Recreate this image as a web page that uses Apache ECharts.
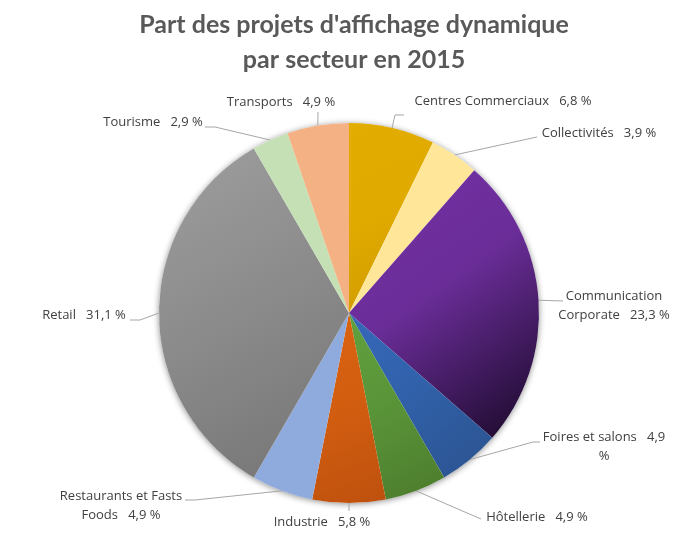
<!DOCTYPE html>
<html><head><meta charset="utf-8">
<script src="https://cdn.jsdelivr.net/npm/echarts@6/dist/echarts.min.js"></script>
<style>html,body{margin:0;padding:0;background:#fff}#c{width:699px;height:541px}</style>
</head><body><div id="c"></div>
<script>
const categories = ['Centres Commerciaux','Collectivités','Communication Corporate','Foires et salons','Hôtellerie','Industrie','Restaurants et Fasts Foods','Retail','Tourisme','Transports'];
const shares = [6.8,3.9,23.3,4.9,4.9,5.8,4.9,31.1,2.9,4.9];
const titleText = "Part des projets d'affichage dynamique\npar secteur en 2015";

// styling / layout
const colors = [['#E3AC00','#E1AA00','#CE9B00'],['#FFE699','#FFE699','#FFE699'],['#7532A6','#6A2D98','#180826'],['#3668BA','#3161AA','#2B528E'],['#60A03E','#5A9539','#4C7B2C'],['#DB6311','#D35E10','#BE510E'],['#8FAADC','#8FAADC','#8FAADC'],['#9E9E9E','#8C8C8C','#747474'],['#C5E0B4','#C5E0B4','#C5E0B4'],['#F4B183','#F4B183','#F4B183']];
const wrapAfter = {2:'Communication',3:'4,9',6:'Fasts'};
const labelPos = [[503,101],[599,133],[614,306],[604,447],[537,517],[322,522],[121,506],[84,315],[153,122],[281,102]];
const lineEnds = [[[395,115],[404,115]],[[537,137]],[[563,301]],[[533,442],[540,442]],[[481,519]],[[349,511]],[[195,500],[185,500]],[[140,320],[130,320]],[[215,127],[205,127]],[[318,112]]];

function grad(c){
  return new echarts.graphic.LinearGradient(0,0,1,1,[{offset:0,color:c[0]},{offset:0.45,color:c[1]},{offset:1,color:c[2]}]);
}
const data = categories.map((n,i)=>({name:n,value:shares[i],itemStyle:{color:grad(colors[i])}}));

const chart = echarts.init(document.getElementById('c'));
chart.setOption({
  animation:false,
  title:{text:titleText,left:349,top:2,textAlign:'center',
    textStyle:{fontFamily:'Lato',fontWeight:'bold',fontSize:25,color:'#595959',lineHeight:35,align:'center'}},
  series:[
    {type:'pie',radius:190,center:[349,313],silent:true,z:1,
      data:[{value:1,itemStyle:{color:'#ffffff',shadowBlur:6,shadowColor:'rgba(0,0,0,0.45)',shadowOffsetY:1}}],
      label:{show:false},labelLine:{show:false}},
    {type:'pie',radius:190,center:[349,313],startAngle:90,clockwise:true,z:2,
      data:data,
      label:{show:true,position:'outside',color:'#404040',fontFamily:'Open Sans',fontSize:13,lineHeight:19,
        formatter:function(p){
          let t = p.name + '   ' + p.value.toFixed(1).replace('.',',') + ' %';
          const w = wrapAfter[p.dataIndex];
          if (w) t = t.replace(w+' ', w+'\n').replace(w+'   ', w+'\n');
          return t;
        }},
      labelLine:{show:true,length:5,length2:5,lineStyle:{color:'#A6A6A6',width:1}},
      labelLayout:function(params){
        const i = params.dataIndex;
        const p0 = params.labelLinePoints ? params.labelLinePoints[0] : null;
        const res = {x:labelPos[i][0],y:labelPos[i][1],align:'center',verticalAlign:'middle',hideOverlap:false,moveOverlap:null};
        if (p0) res.labelLinePoints = [p0].concat(lineEnds[i]);
        return res;
      }
    }
  ]
});
</script></body></html>
